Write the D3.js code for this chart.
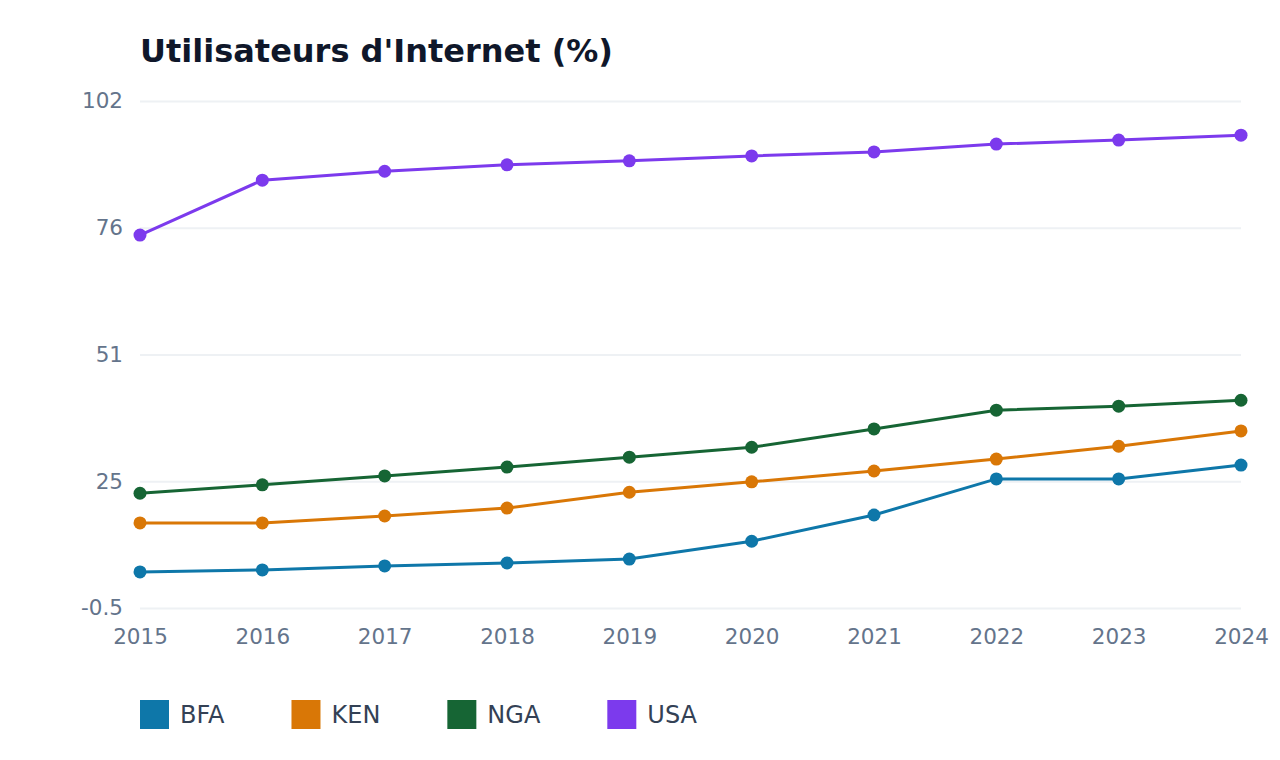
<!DOCTYPE html>
<html>
<head>
<meta charset="utf-8">
<script src="https://cdn.jsdelivr.net/npm/d3@7"></script>
<style>
  body { margin: 0; background: #fff; font-family: "DejaVu Sans", sans-serif; }
</style>
</head>
<body>
<svg id="chart"></svg>
<script>
// chart data
const years = [2015, 2016, 2017, 2018, 2019, 2020, 2021, 2022, 2023, 2024]
const seriesNames = ["BFA", "KEN", "NGA", "USA"]
const bfa = [6.8, 7.2, 8.0, 8.6, 9.4, 13.0, 18.3, 25.6, 25.6, 28.4]
const ken = [16.7, 16.7, 18.1, 19.7, 22.9, 25.0, 27.2, 29.6, 32.2, 35.3]
const nga = [22.7, 24.4, 26.2, 28.0, 30.0, 32.0, 35.7, 39.5, 40.3, 41.5]
const usa = [74.9, 86.0, 87.8, 89.1, 89.9, 90.9, 91.7, 93.3, 94.1, 95.1]
const yTicks = [-0.5, 25.125, 50.75, 76.375, 102]
const yTickLabels = ["-0.5", "25", "51", "76", "102"]
const colors = ["#0e77a9", "#d97706", "#166534", "#7c3aed"]

const seriesValues = [bfa, ken, nga, usa]
const series = seriesNames.map((name, i) => ({
  name: name,
  color: colors[i],
  values: years.map((y, j) => ({ year: y, value: seriesValues[i][j] }))
}))

const outerWidth = 1280, outerHeight = 760
const margin = { top: 101, right: 39, bottom: 152, left: 140 }
const width = outerWidth - margin.left - margin.right,
  height = outerHeight - margin.top - margin.bottom

const svg = d3.select("#chart")
  .attr("width", outerWidth)
  .attr("height", outerHeight)

svg.append("text")
  .attr("x", 140)
  .attr("y", 62)
  .style("font-size", "32px")
  .style("font-weight", "bold")
  .style("fill", "#0f172a")
  .text("Utilisateurs d'Internet (%)")

const plotArea = svg.append("g").attr("transform", "translate(" + margin.left + "," + margin.top + ")")

const xScale = d3.scaleLinear()
  .domain(d3.extent(years))
  .range([0, width])

const yScale = d3.scaleLinear()
  .domain([-0.5, 102])
  .range([height, 0])

// grid lines + y labels
const yAxis = d3.axisLeft(yScale)
  .tickValues(yTicks)
  .tickSize(-width)
  .tickPadding(17)
  .tickFormat((d, i) => yTickLabels[i])
const yG = plotArea.append("g").attr("class", "y axis").call(yAxis)
yG.select(".domain").remove()
yG.selectAll("line").style("stroke", "#eef1f4").style("stroke-width", 2)
yG.selectAll("text")
  .style("font-size", "21.5px")
  .style("font-family", "DejaVu Sans, sans-serif")
  .style("fill", "#64748b")

const xAxis = d3.axisBottom(xScale)
  .tickValues(years)
  .tickFormat(d3.format("d"))
  .tickSize(0)
  .tickPadding(21)
const xG = plotArea.append("g")
  .attr("class", "x axis")
  .attr("transform", "translate(0," + height + ")")
  .call(xAxis)
xG.select(".domain").remove()
xG.selectAll("text")
  .style("font-size", "21.5px")
  .style("font-family", "DejaVu Sans, sans-serif")
  .style("fill", "#64748b")

const line = d3.line()
  .x((d) => xScale(d.year))
  .y((d) => yScale(d.value))

const groups = plotArea.selectAll(".series")
  .data(series)
  .enter().append("g")
  .attr("class", "series")

groups.append("path")
  .attr("d", (d) => line(d.values))
  .style("fill", "none")
  .style("stroke", (d) => d.color)
  .style("stroke-width", 3)

groups.selectAll("circle")
  .data((d) => d.values.map((v) => ({ ...v, color: d.color })))
  .enter().append("circle")
  .attr("cx", (d) => xScale(d.year))
  .attr("cy", (d) => yScale(d.value))
  .attr("r", 6.5)
  .style("fill", (d) => d.color)

// legend
const legend = svg.append("g").attr("transform", "translate(140,700)")
let lx = 0
series.forEach((s) => {
  const item = legend.append("g").attr("transform", "translate(" + lx + ",0)")
  item.append("rect")
    .attr("width", 29)
    .attr("height", 29)
    .style("fill", s.color)
  const t = item.append("text")
    .attr("x", 40)
    .attr("y", 23)
    .style("font-size", "24px")
    .style("fill", "#334155")
    .text(s.name)
  lx += 40 + t.node().getComputedTextLength() + 67
})
</script>
</body>
</html>
